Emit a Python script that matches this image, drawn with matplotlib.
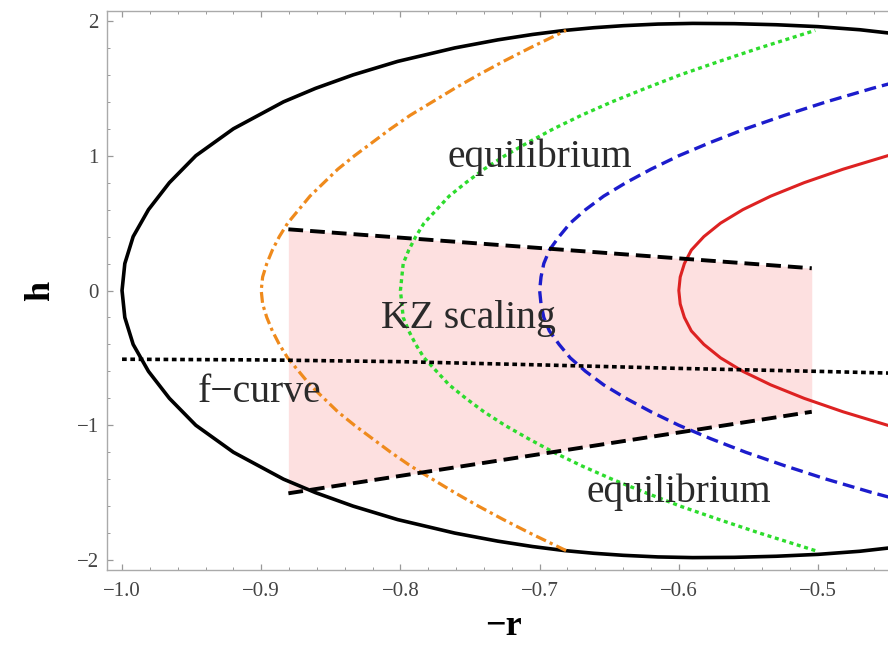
import matplotlib
matplotlib.use("Agg")
import matplotlib.pyplot as plt
from matplotlib.ticker import MultipleLocator

plt.rcParams['font.family'] = ['Liberation Serif', 'DejaVu Serif']

# outer boundary, closed curve: bottom-right -> left tip -> top-right
bound_x = [-0.440, -0.470, -0.500, -0.530, -0.560, -0.590, -0.615, -0.640, -0.661,
           -0.682, -0.705, -0.730, -0.761, -0.802, -0.834, -0.861, -0.884, -0.920,
           -0.947, -0.966, -0.981, -0.992, -0.998, -1.000,
           -0.998, -0.992, -0.981, -0.966, -0.947, -0.920, -0.884, -0.861, -0.834,
           -0.802, -0.761, -0.730, -0.705, -0.682, -0.661, -0.640, -0.615, -0.590,
           -0.560, -0.530, -0.500, -0.470, -0.440]
bound_h = [-1.900, -1.935, -1.958, -1.972, -1.980, -1.982, -1.977, -1.965, -1.950,
           -1.930, -1.900, -1.860, -1.800, -1.700, -1.600, -1.500, -1.400, -1.200,
           -1.000, -0.800, -0.600, -0.400, -0.200, 0.000,
           0.200, 0.400, 0.600, 0.800, 1.000, 1.200, 1.400, 1.500, 1.600,
           1.700, 1.800, 1.860, 1.900, 1.930, 1.950, 1.965, 1.977, 1.982,
           1.980, 1.972, 1.958, 1.935, 1.900]

# equilibrium curves, x read against h
curve_h = [-1.93, -1.8, -1.7, -1.6, -1.5, -1.4, -1.3, -1.2, -1.1, -1.0,
           -0.9, -0.8, -0.7, -0.6, -0.5, -0.4, -0.3, -0.2, -0.1, 0.0,
           0.1, 0.2, 0.3, 0.4, 0.5, 0.6, 0.7, 0.8, 0.9, 1.0,
           1.1, 1.2, 1.3, 1.4, 1.5, 1.6, 1.7, 1.8, 1.93]
orange_x = [-0.681, -0.707, -0.726, -0.744, -0.761, -0.777, -0.793, -0.807, -0.820, -0.833,
            -0.845, -0.855, -0.865, -0.873, -0.881, -0.887, -0.892, -0.896, -0.899, -0.900,
            -0.899, -0.896, -0.892, -0.887, -0.881, -0.873, -0.865, -0.855, -0.845, -0.833,
            -0.820, -0.807, -0.793, -0.777, -0.761, -0.744, -0.726, -0.707, -0.681]
green_x = [-0.502, -0.542, -0.571, -0.599, -0.624, -0.648, -0.670, -0.690, -0.708, -0.725,
           -0.740, -0.753, -0.765, -0.774, -0.783, -0.789, -0.794, -0.798, -0.799, -0.800,
           -0.799, -0.798, -0.794, -0.789, -0.783, -0.774, -0.765, -0.753, -0.740, -0.725,
           -0.708, -0.690, -0.670, -0.648, -0.624, -0.599, -0.571, -0.542, -0.502]

blue_h = [-1.7, -1.6, -1.5, -1.4, -1.3, -1.2, -1.1, -1.0,
          -0.9, -0.8, -0.7, -0.6, -0.5, -0.4, -0.3, -0.2, -0.1, 0.0,
          0.1, 0.2, 0.3, 0.4, 0.5, 0.6, 0.7, 0.8, 0.9, 1.0,
          1.1, 1.2, 1.3, 1.4, 1.5, 1.6, 1.7]
blue_x = [-0.387, -0.425, -0.461, -0.494, -0.524, -0.552, -0.577, -0.600,
          -0.620, -0.638, -0.654, -0.667, -0.678, -0.686, -0.693, -0.697, -0.699, -0.700,
          -0.699, -0.697, -0.693, -0.686, -0.678, -0.667, -0.654, -0.638, -0.620, -0.600,
          -0.577, -0.552, -0.524, -0.494, -0.461, -0.425, -0.387]

red_h = [-1.2, -1.1, -1.0, -0.9, -0.8, -0.7, -0.6, -0.5, -0.4, -0.3, -0.2, -0.1, 0.0,
         0.1, 0.2, 0.3, 0.4, 0.5, 0.6, 0.7, 0.8, 0.9, 1.0, 1.1, 1.2]
red_x = [-0.372, -0.413, -0.450, -0.482, -0.510, -0.534, -0.554, -0.570, -0.582, -0.591,
         -0.596, -0.599, -0.600,
         -0.599, -0.596, -0.591, -0.582, -0.570, -0.554, -0.534, -0.510, -0.482, -0.450,
         -0.413, -0.372]

# f-curve (dotted)
fcurve_x = [-1.0, -0.9, -0.8, -0.7, -0.6, -0.5, -0.44]
fcurve_h = [-0.510, -0.515, -0.528, -0.552, -0.578, -0.600, -0.615]

# KZ scaling window edges
kz_x = [-0.8805, -0.5045]
kz_top = [0.454, 0.165]
kz_bot = [-1.505, -0.900]

xticks = [-1.0, -0.9, -0.8, -0.7, -0.6, -0.5]
xticklabels = ['−1.0', '−0.9', '−0.8', '−0.7', '−0.6', '−0.5']
yticks = [-2, -1, 0, 1, 2]
yticklabels = ['−2', '−1', '0', '1', '2']

fig = plt.figure(figsize=(8.88, 6.48), dpi=100)
ax = fig.add_axes([107/888, 78/648, (900-107)/888, 559/648])

ax.fill_between(kz_x, kz_bot, kz_top, color='#fde0e0', lw=0, zorder=1)

ax.plot(bound_x, bound_h, color='black', lw=2.6, zorder=3)
ax.plot(orange_x, curve_h, color='#ef8a1c', lw=2.3, dashes=(3.4, 1.3, 1.0, 1.3), zorder=3)
ax.plot(green_x, curve_h, color='#2ddc2d', lw=2.4, dashes=(1.2, 1.1), zorder=3)
ax.plot(blue_x, blue_h, color='#1c1ccc', lw=2.4, dashes=(3.6, 1.8), zorder=3)
ax.plot(red_x, red_h, color='#dd2222', lw=2.2, zorder=3)
ax.plot(fcurve_x, fcurve_h, color='black', lw=2.6, dashes=(1.3, 1.0), zorder=4)
ax.plot(kz_x, kz_top, color='black', lw=2.8, dashes=(3.8, 1.8), zorder=4)
ax.plot(kz_x, kz_bot, color='black', lw=2.8, dashes=(3.8, 1.8), zorder=4)

txt = dict(fontsize=28.5, color='#2a2a2a', ha='center', va='baseline', zorder=5)
ax.text(-0.700, 0.919, 'equilibrium', **txt)
ax.text(-0.751, -0.281, 'KZ scaling', **txt)
ax.text(-0.901, -0.825, 'f−curve', **txt)
ax.text(-0.600, -1.567, 'equilibrium', **txt)

ax.set_xlim(-1.0108, -0.4411)
ax.set_ylim(-2.074, 2.074)
ax.set_xticks(xticks)
ax.set_xticklabels(xticklabels)
ax.set_yticks(yticks)
ax.set_yticklabels(yticklabels)
ax.xaxis.set_minor_locator(MultipleLocator(0.02))
ax.yaxis.set_minor_locator(MultipleLocator(0.2))
ax.tick_params(which='both', direction='in', top=True, right=True, color='#999999',
               labelcolor='#444444', labelsize=15)
ax.tick_params(which='major', length=4, width=0.9)
ax.tick_params(which='minor', length=2, width=0.7)
ax.tick_params(axis='x', pad=9)
ax.tick_params(axis='y', pad=6)
for s in ax.spines.values():
    s.set_color('#aaaaaa')
    s.set_linewidth(1.0)

ax.set_xlabel('−r', fontsize=26, fontweight='bold', labelpad=6)
ax.set_ylabel('h', fontsize=26, fontweight='bold', labelpad=14)

fig.savefig('out.png', dpi=100)
